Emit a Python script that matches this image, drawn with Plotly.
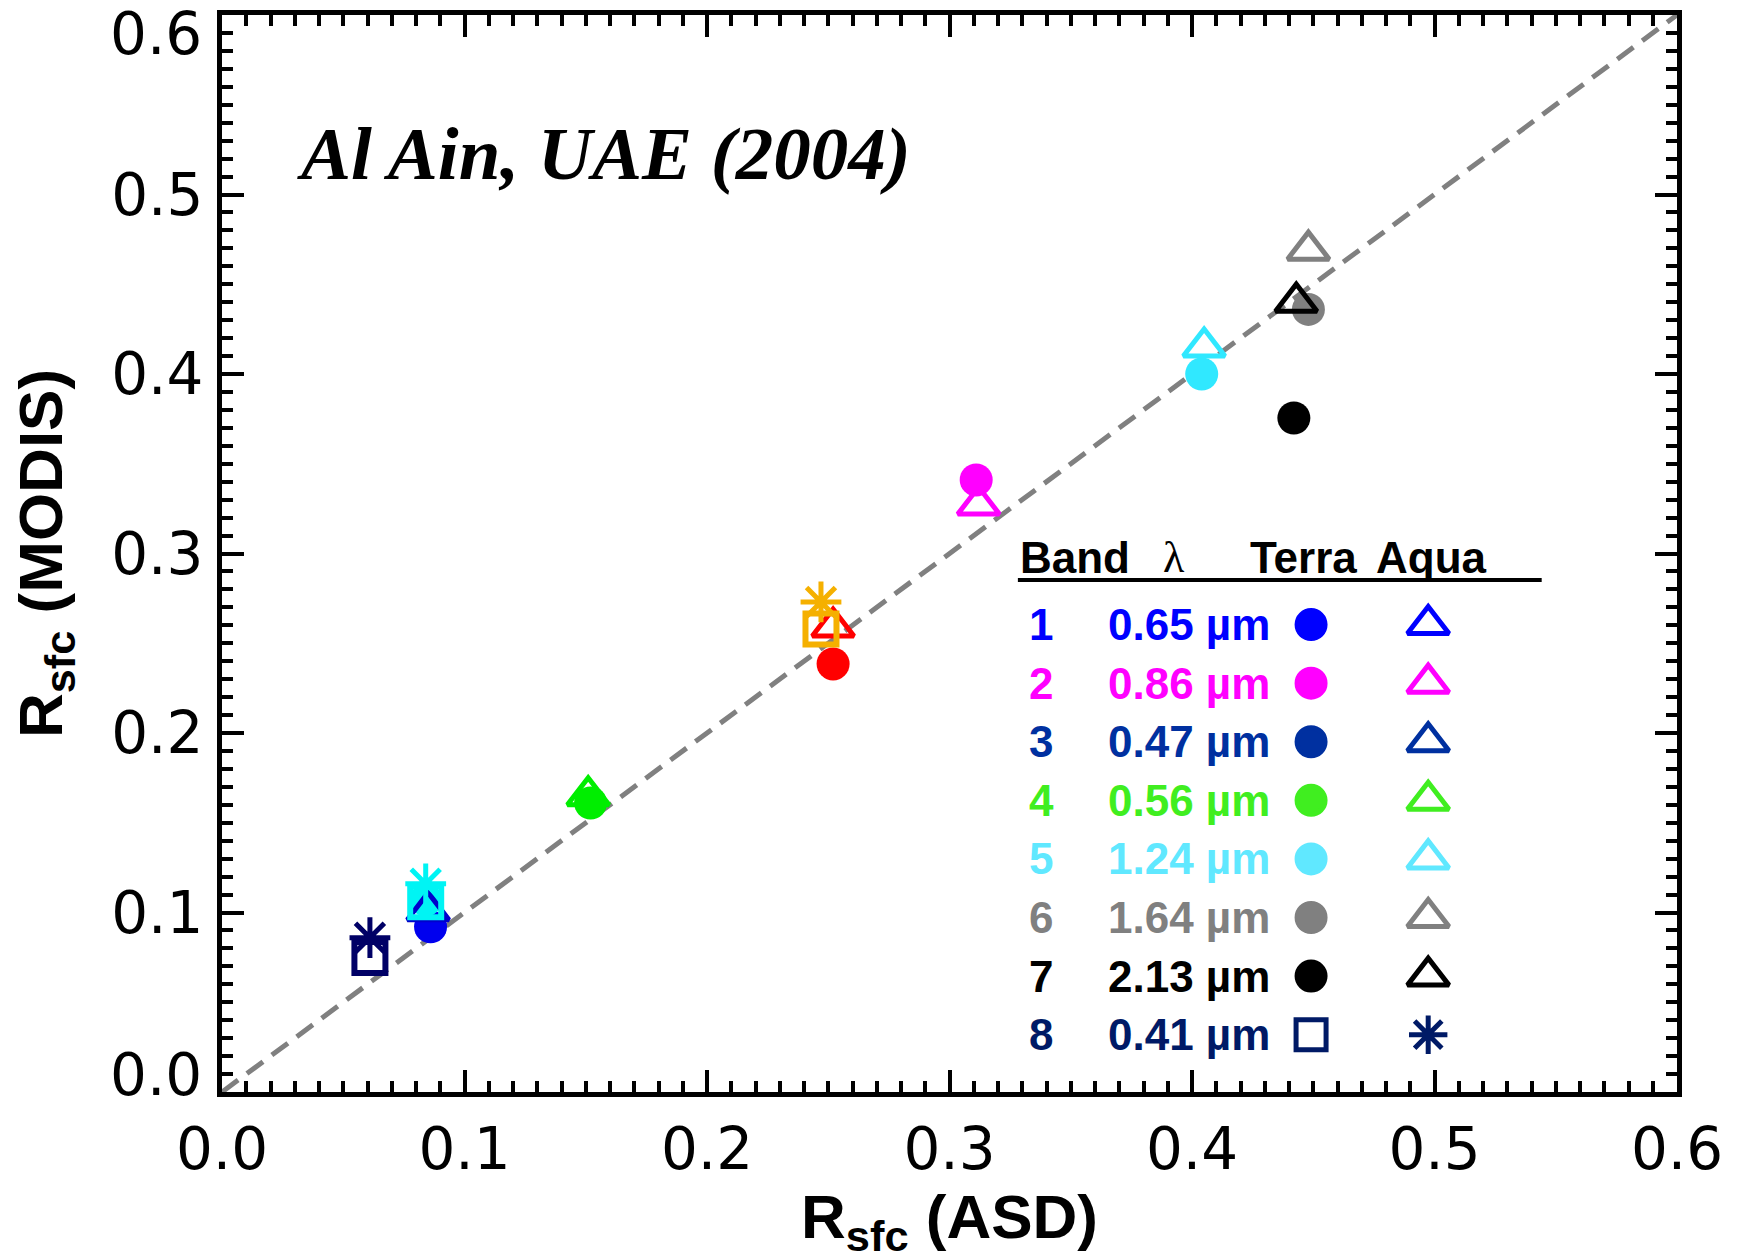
import plotly.graph_objects as go

# ---------------- data ----------------
# Terra (filled circles)
terra_names = ["Band 1", "Band 2", "Band 3", "Band 4", "Band 5", "Band 6", "Band 7", "Extra"]
terra_colors = ["#ff0000", "#ff00ff", "#0000ee", "#00ee00", "#30e8ff", "#808080", "#000000", "#00f4f4"]
terra_x = [0.252, 0.311, 0.086, 0.152, 0.404, 0.448, 0.442, 0.084]
terra_y = [0.2385, 0.341, 0.092, 0.161, 0.400, 0.436, 0.3755, 0.107]

# Aqua (open triangles)
aqua_names = ["Band 1", "Band 2", "Band 3", "Band 4", "Band 5", "Band 6", "Band 7"]
aqua_colors = ["#ff0000", "#ff00ff", "#0000cc", "#00ee00", "#30e8ff", "#808080", "#000000"]
aqua_x = [0.252, 0.312, 0.085, 0.151, 0.405, 0.448, 0.443]
aqua_y = [0.259, 0.327, 0.101, 0.165, 0.415, 0.469, 0.440]

# 0.41 um style symbols (open squares / asterisks)
sq_colors = ["#000066", "#00f4f4", "#f5b000"]
sq_x = [0.061, 0.084, 0.247]
sq_y = [0.075, 0.106, 0.258]
star_x = [0.061, 0.084, 0.247]
star_y = [0.086, 0.116, 0.273]

# 1:1 line
line_x = [0.0, 0.6]
line_y = [0.0, 0.6]

# legend table
band_labels = ["1", "2", "3", "4", "5", "6", "7", "8"]
wavelengths = ["0.65 µm", "0.86 µm", "0.47 µm", "0.56 µm", "1.24 µm", "1.64 µm", "2.13 µm", "0.41 µm"]
legend_colors = ["#0000ff", "#ff00ff", "#0030a0", "#40ee20", "#60e8ff", "#808080", "#000000", "#001a66"]
legend_terra_symbols = ["circle"] * 7 + ["square-open"]
legend_aqua_symbols = ["triangle-up-open"] * 7 + ["asterisk-open"]

tick_vals = [0.0, 0.1, 0.2, 0.3, 0.4, 0.5, 0.6]
tick_text = ["0.0", "0.1", "0.2", "0.3", "0.4", "0.5", "0.6"]
# y labels at the frame ends are drawn nudged inward (as in the original)
y_tick_text = ["", "0.1", "0.2", "0.3", "0.4", "0.5", ""]
y_end_labels = [("0.0", 0.0158), ("0.6", 0.982)]

# ---------------- figure ----------------
fig = go.Figure()

fig.add_trace(go.Scatter(x=line_x, y=line_y, mode="lines",
                         line=dict(color="#808080", width=5, dash="20px,11px"),
                         showlegend=False, hoverinfo="skip"))

for n, c, x, y in zip(terra_names, terra_colors, terra_x, terra_y):
    fig.add_trace(go.Scatter(x=[x], y=[y], mode="markers", name=n + " Terra",
                             marker=dict(symbol="circle", size=33, color=c, line=dict(width=0)),
                             showlegend=False))

for n, c, x, y in zip(aqua_names, aqua_colors, aqua_x, aqua_y):
    fig.add_trace(go.Scatter(x=[x], y=[y], mode="markers", name=n + " Aqua",
                             marker=dict(symbol="triangle-up-open", size=36, color=c,
                                         line=dict(width=5, color=c)),
                             showlegend=False))

for c, x, y in zip(sq_colors, sq_x, sq_y):
    fig.add_trace(go.Scatter(x=[x], y=[y], mode="markers",
                             marker=dict(symbol="square-open", size=31, color=c,
                                         line=dict(width=6, color=c)),
                             showlegend=False))

for c, x, y in zip(sq_colors, star_x, star_y):
    fig.add_trace(go.Scatter(x=[x], y=[y], mode="markers",
                             marker=dict(symbol="asterisk-open", size=34, color=c,
                                         line=dict(width=5, color=c)),
                             showlegend=False))

# ---------------- custom legend table (on a hidden 0..1 overlay axis) ----------------
row_y0 = 0.434
row_dy = 0.0544
col_band = 0.563
col_wl = 0.6076
col_terra = 0.7485
col_aqua = 0.829
row_ys = [row_y0 - i * row_dy for i in range(len(band_labels))]

for i, (b, w, c, ts, asym) in enumerate(zip(band_labels, wavelengths, legend_colors,
                                             legend_terra_symbols, legend_aqua_symbols)):
    y = row_ys[i]
    tsize = 28 if ts == "circle" else 30
    fig.add_trace(go.Scatter(x=[col_terra], y=[y], mode="markers", xaxis="x2", yaxis="y2",
                             marker=dict(symbol=ts, size=tsize, color=c, line=dict(width=5, color=c)),
                             showlegend=False, hoverinfo="skip"))
    asize = 36 if asym.startswith("triangle") else 32
    fig.add_trace(go.Scatter(x=[col_aqua], y=[y], mode="markers", xaxis="x2", yaxis="y2",
                             marker=dict(symbol=asym, size=asize, color=c, line=dict(width=5, color=c)),
                             showlegend=False, hoverinfo="skip"))
    fig.add_annotation(x=col_band, y=y, xref="paper", yref="paper", text="<b>%s</b>" % b,
                       showarrow=False, xanchor="center", yanchor="middle",
                       font=dict(family="Liberation Sans", size=44, color=c))
    fig.add_annotation(x=col_wl, y=y, xref="paper", yref="paper", text="<b>%s</b>" % w,
                       showarrow=False, xanchor="left", yanchor="middle",
                       font=dict(family="Liberation Sans", size=44, color=c))

head_y = 0.496
hfont = dict(family="Liberation Sans", size=44, color="black")
fig.add_annotation(x=0.547, y=head_y, xref="paper", yref="paper", text="<b>Band</b>",
                   showarrow=False, xanchor="left", yanchor="middle", font=hfont)
fig.add_annotation(x=0.654, y=head_y, xref="paper", yref="paper", text="λ",
                   showarrow=False, xanchor="center", yanchor="middle",
                   font=dict(family="Liberation Serif", size=44, color="black"))
fig.add_annotation(x=0.705, y=head_y, xref="paper", yref="paper", text="<b>Terra</b>",
                   showarrow=False, xanchor="left", yanchor="middle", font=hfont)
fig.add_annotation(x=0.792, y=head_y, xref="paper", yref="paper", text="<b>Aqua</b>",
                   showarrow=False, xanchor="left", yanchor="middle", font=hfont)
fig.add_shape(type="line", xref="paper", yref="paper", x0=0.547, x1=0.907, y0=0.4754, y1=0.4754,
              line=dict(color="black", width=4))

# plot title inside the frame
fig.add_annotation(x=0.05, y=0.8715, xref="paper", yref="paper",
                   text="<b><i>Al Ain, UAE (2004)</i></b>", showarrow=False,
                   xanchor="left", yanchor="middle",
                   font=dict(family="Liberation Serif", size=75, color="black"))

tickfont = dict(family="DejaVu Sans", size=58, color="black")
for txt, yp in y_end_labels:
    fig.add_annotation(x=-0.0125, y=yp, xref="paper", yref="paper", text=txt, showarrow=False,
                       xanchor="right", yanchor="middle", font=tickfont)

axis_common = dict(
    range=[0, 0.6], tickmode="array", tickvals=tick_vals,
    showgrid=False, zeroline=False, showline=True, linecolor="black", linewidth=5,
    mirror="ticks", ticks="inside", ticklen=22, tickwidth=4, tickcolor="black",
    minor=dict(dtick=0.01, ticks="inside", ticklen=11, tickwidth=3.5, tickcolor="black", showgrid=False),
    tickfont=tickfont, ticklabeloverflow="allow",
)

fig.update_layout(
    width=1742, height=1260,
    margin=dict(l=222, r=65, t=15, b=168, autoexpand=False),
    paper_bgcolor="white", plot_bgcolor="white",
    xaxis=dict(**axis_common, ticktext=tick_text, ticklabelstandoff=2,
               title=dict(text="<b>R<sub>sfc</sub> (ASD)</b>", standoff=40,
                          font=dict(family="Liberation Sans", size=62, color="black"))),
    yaxis=dict(**axis_common, ticktext=y_tick_text, ticklabelstandoff=2,
               title=dict(text="<b>R<sub>sfc</sub> (MODIS)</b>", standoff=30,
                          font=dict(family="Liberation Sans", size=62, color="black"))),
    xaxis2=dict(range=[0, 1], overlaying="x", visible=False, fixedrange=True),
    yaxis2=dict(range=[0, 1], overlaying="y", visible=False, fixedrange=True),
    showlegend=False,
)

fig.write_html("out.html", config={"displayModeBar": False},
               post_script="document.body.style.margin='0';")
